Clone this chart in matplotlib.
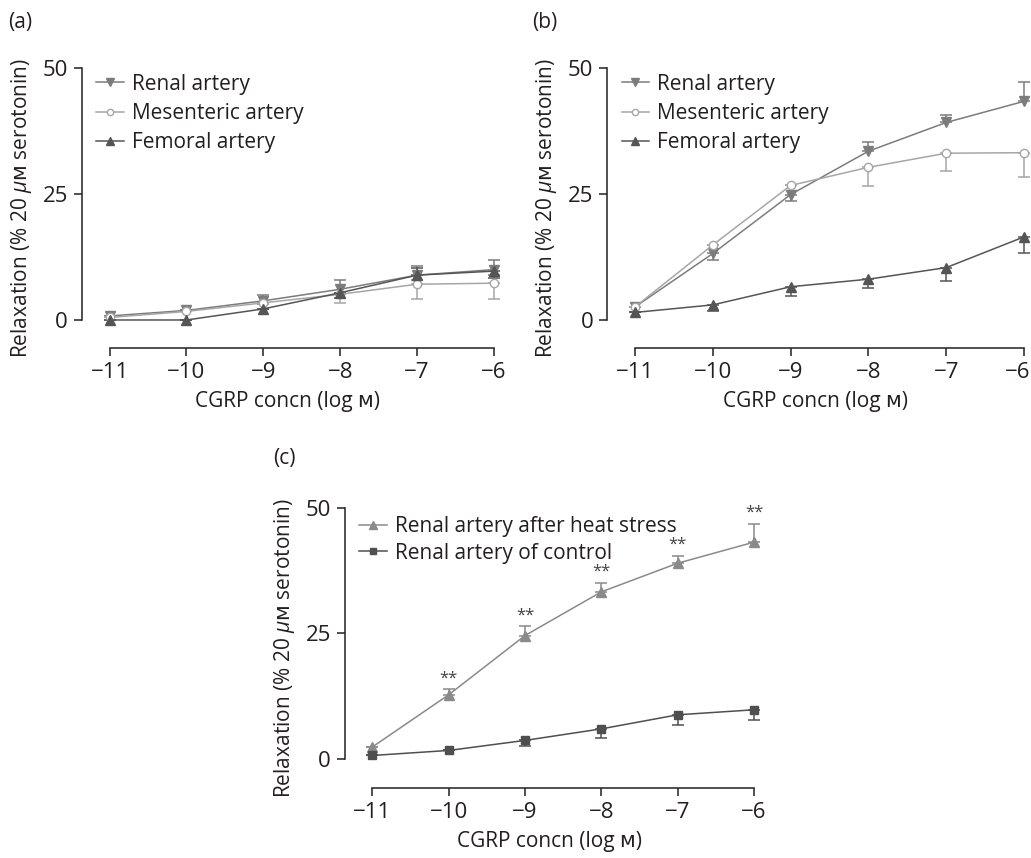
import matplotlib
matplotlib.use("Agg")
import matplotlib.pyplot as plt
from matplotlib.transforms import offset_copy

plt.rcParams["font.family"] = ["Open Sans", "DejaVu Sans"]
plt.rcParams["mathtext.fontset"] = "custom"
plt.rcParams["mathtext.it"] = "Open Sans:italic"
plt.rcParams["mathtext.rm"] = "DejaVu Sans"

conc = [-11, -10, -9, -8, -7, -6]
xticks = [-11, -10, -9, -8, -7, -6]
yticks = [0, 25, 50]

# panel (a): control rats
a_renal = [0.8, 1.9, 3.8, 6.1, 8.9, 10.0]
a_renal_lo = [0, 0, 0.6, 0.8, 0.9, 1.0]
a_renal_hi = [0, 0, 1.1, 1.8, 1.8, 1.9]
a_mes = [0.5, 1.7, 3.4, 5.1, 7.1, 7.3]
a_mes_lo = [0, 0, 0, 1.7, 3.0, 3.2]
a_mes_hi = [0, 0, 0, 0, 0, 0]
a_fem = [0.0, 0.0, 2.2, 5.4, 8.9, 9.7]
a_fem_lo = [0, 0, 0, 1.1, 0, 1.3]
a_fem_hi = [0, 0, 0, 0, 1.5, 0]

# panel (b): after heat stress
b_renal = [2.6, 13.2, 24.9, 33.5, 39.2, 43.4]
b_renal_lo = [0, 1.3, 1.2, 0, 0, 0]
b_renal_hi = [0, 0, 0, 1.8, 1.4, 3.8]
b_mes = [2.6, 14.9, 26.7, 30.3, 33.1, 33.2]
b_mes_lo = [0, 0, 0, 3.7, 3.6, 4.8]
b_mes_hi = [0, 0, 0, 0, 0, 0]
b_fem = [1.5, 3.0, 6.6, 8.1, 10.4, 16.5]
b_fem_lo = [0, 1.2, 1.8, 1.8, 2.7, 3.2]
b_fem_hi = [0, 0, 0, 0, 0, 0]

# panel (c): renal artery comparison
c_heat = [2.4, 12.8, 24.6, 33.3, 39.0, 43.2]
c_heat_lo = [0, 0, 0, 0, 0, 0]
c_heat_hi = [0, 1.1, 1.8, 1.8, 1.5, 3.7]
c_ctrl = [0.7, 1.7, 3.7, 6.0, 8.8, 9.8]
c_ctrl_lo = [0, 0, 1.2, 1.8, 2.0, 2.1]
c_ctrl_hi = [0, 0, 0, 0, 0, 0]
c_sig = ["", "**", "**", "**", "**", "**"]

txt = "#231f20"
col_renal = "#7c7c7c"
col_mes = "#a6a6a6"
col_fem = "#555555"
col_heat = "#8a8a8a"
col_ctrl = "#4f4f4f"

ylab = "Relaxation (% 20 $\\mathit{\\mu}\\mathrm{ᴍ}$ serotonin)"
xlab = "CGRP concn (log ᴍ)"
fs = 15
tfs = 16

fig = plt.figure(figsize=(10.31, 8.58), dpi=100)


def style(ax, ymin):
    ax.set_xlim(-11.36, -6)
    ax.set_ylim(ymin, 50)
    ax.spines["top"].set_visible(False)
    ax.spines["right"].set_visible(False)
    ax.spines["bottom"].set_bounds(-11, -6)
    ax.spines["left"].set_bounds(0, 50)
    for s in ["left", "bottom"]:
        ax.spines[s].set_linewidth(1.1)
        ax.spines[s].set_color(txt)
    ax.set_xticks(xticks)
    ax.set_xticklabels(["\u2212" + str(abs(t)) for t in xticks])
    ax.set_yticks(yticks)
    ax.tick_params(direction="out", length=6, width=1.1, colors=txt,
                   labelsize=tfs, pad=4)
    ax.set_xlabel(xlab, fontsize=fs, color=txt, labelpad=6)
    ax.set_ylabel(ylab, fontsize=fs, color=txt, labelpad=6)


def series(ax, y, lo, hi, marker, color, label, mfc=None, ms=7):
    ax.errorbar(conc, y, yerr=[lo, hi], marker=marker, color=color,
                mfc=mfc if mfc else color, mec=color, ms=ms, lw=1.1,
                elinewidth=1.1, capsize=4, capthick=1.1, label=label,
                clip_on=False, zorder=3)


def legend(ax, y0, sp):
    handles, labels = ax.get_legend_handles_labels()
    handles = [h[0] for h in handles]
    leg = ax.legend(handles, labels, loc="upper left", bbox_to_anchor=(0.015, y0),
                    frameon=False, fontsize=fs, handlelength=1.3,
                    handletextpad=0.4, labelspacing=sp, markerscale=0.75,
                    borderaxespad=0)
    for t in leg.get_texts():
        t.set_color(txt)


# (a)
ax = fig.add_axes([0.0795, 0.5944, 0.3996, 0.3263])
style(ax, -5.56)
series(ax, a_renal, a_renal_lo, a_renal_hi, "v", col_renal, "Renal artery")
series(ax, a_mes, a_mes_lo, a_mes_hi, "o", col_mes, "Mesenteric artery", mfc="white", ms=6)
series(ax, a_fem, a_fem_lo, a_fem_hi, "^", col_fem, "Femoral artery")
legend(ax, 1.01, 0.4)
fig.text(0.008, 0.974, "(a)", fontsize=fs, color=txt, va="center")

# (b)
ax = fig.add_axes([0.5888, 0.5944, 0.4045, 0.3263])
style(ax, -5.56)
series(ax, b_renal, b_renal_lo, b_renal_hi, "v", col_renal, "Renal artery")
series(ax, b_mes, b_mes_lo, b_mes_hi, "o", col_mes, "Mesenteric artery", mfc="white", ms=6)
series(ax, b_fem, b_fem_lo, b_fem_hi, "^", col_fem, "Femoral artery")
legend(ax, 1.01, 0.4)
fig.text(0.516, 0.974, "(b)", fontsize=fs, color=txt, va="center")
# last tick label sits at the figure edge; nudge it in a little
fig.canvas.draw()
last = ax.get_xticklabels()[-1]
last.set_transform(offset_copy(last.get_transform(), fig=fig, x=-6, y=0, units="dots"))

# (c)
ax = fig.add_axes([0.3346, 0.0816, 0.3967, 0.3263])
style(ax, -5.78)
series(ax, c_heat, c_heat_lo, c_heat_hi, "^", col_heat, "Renal artery after heat stress")
series(ax, c_ctrl, c_ctrl_lo, c_ctrl_hi, "s", col_ctrl, "Renal artery of control", ms=6)
legend(ax, 1.0, 0.25)
for xv, yv, e, s in zip(conc, c_heat, c_heat_hi, c_sig):
    if s:
        ax.annotate(s, (xv, yv + e), xytext=(0, 2), textcoords="offset points",
                    ha="center", va="bottom", fontsize=12, color="#444444",
                    annotation_clip=False)
fig.text(0.265, 0.466, "(c)", fontsize=fs, color=txt, va="center")

fig.savefig("out.png", dpi=100)
